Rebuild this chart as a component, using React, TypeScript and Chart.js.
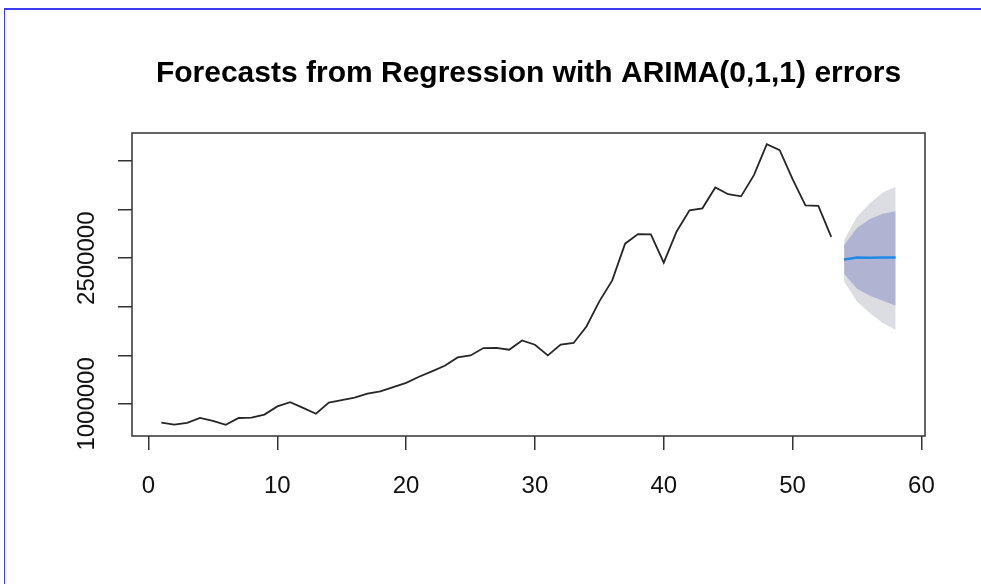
import React, { useEffect, useRef } from "react";
import { Chart, registerables } from "chart.js";

Chart.register(...registerables);

// Observed series (time index 1..53)
const historyValues: number[] = [
  808000, 787000, 805000, 856000, 825000, 785000, 855000, 858000, 890000, 974000,
  1018000, 959000, 898000, 1013000, 1039000, 1065000, 1106000, 1129000, 1173000, 1216000,
  1280000, 1335000, 1393000, 1479000, 1499000, 1575000, 1576000, 1558000, 1653000, 1609000,
  1499000, 1610000, 1627000, 1797000, 2056000, 2272000, 2650000, 2748000, 2745000, 2454000,
  2775000, 2993000, 3014000, 3229000, 3159000, 3137000, 3356000, 3674000, 3613000, 3315000,
  3045000, 3039000, 2719000,
];
const historyStart = 1;

// Forecast horizon (time index 54..58)
const forecastIndex: number[] = [54, 55, 56, 57, 58];
const forecastMean: number[] = [2486000, 2507000, 2505000, 2508000, 2507000];
const lower80: number[] = [2339000, 2185000, 2113000, 2061000, 2010000];
const upper80: number[] = [2637000, 2811000, 2904000, 2958000, 2983000];
const lower95: number[] = [2260000, 2054000, 1935000, 1832000, 1763000];
const upper95: number[] = [2688000, 2927000, 3065000, 3176000, 3236000];

const xTickValues: number[] = [0, 10, 20, 30, 40, 50, 60];
const yTickValues: number[] = [1000000, 1500000, 2000000, 2500000, 3000000, 3500000];
const yTickLabels: string[] = ["1000000", "", "", "2500000", "", ""];

const titleText = "Forecasts from Regression with ARIMA(0,1,1) errors";

export default function App() {
  const ref = useRef<HTMLCanvasElement | null>(null);

  useEffect(() => {
    if (!ref.current) return;
    const hist = historyValues.map((v, i) => ({ x: historyStart + i, y: v }));
    const fc = (arr: number[]) => arr.map((v, i) => ({ x: forecastIndex[i], y: v }));

    const allY = [...historyValues, ...lower95, ...upper95];
    const yMinD = Math.min(...allY);
    const yMaxD = Math.max(...allY);
    const yr = yMaxD - yMinD;
    const xMinD = historyStart;
    const xMaxD = forecastIndex[forecastIndex.length - 1];
    const xr = xMaxD - xMinD;

    const boxPlugin = {
      id: "rbox",
      afterDraw(chart: any) {
        const { ctx, chartArea } = chart;
        ctx.save();
        ctx.strokeStyle = "#333";
        ctx.lineWidth = 1.5;
        ctx.strokeRect(chartArea.left, chartArea.top, chartArea.right - chartArea.left, chartArea.bottom - chartArea.top);
        ctx.restore();
      },
    };

    const font = "'Liberation Sans', Arial, sans-serif";

    const chart = new Chart(ref.current, {
      type: "line",
      data: {
        datasets: [
          { data: hist, borderColor: "#262626", borderWidth: 1.8, pointRadius: 0, fill: false, tension: 0 },
          { data: fc(forecastMean), borderColor: "#1f8ae6", borderWidth: 2.5, pointRadius: 0, fill: false },
          { data: fc(lower80), borderWidth: 0, borderColor: "rgba(0,0,0,0)", pointRadius: 0, fill: false },
          { data: fc(upper80), borderWidth: 0, borderColor: "rgba(0,0,0,0)", pointRadius: 0, fill: "-1", backgroundColor: "#b1b3d3" },
          { data: fc(lower95), borderWidth: 0, borderColor: "rgba(0,0,0,0)", pointRadius: 0, fill: false },
          { data: fc(upper95), borderWidth: 0, borderColor: "rgba(0,0,0,0)", pointRadius: 0, fill: "-1", backgroundColor: "#dcdce3" },
        ],
      },
      options: {
        animation: false,
        responsive: false,
        devicePixelRatio: 1,
        layout: { padding: { left: 0, right: 56, top: 0, bottom: 0 } },
        plugins: {
          legend: { display: false },
          tooltip: { enabled: false },
          title: {
            display: true,
            fullSize: false,
            text: titleText,
            color: "#000",
            font: { family: font, size: 30, weight: "bold", lineHeight: 1.2 },
            padding: { top: 56, bottom: 41 },
          },
        },
        scales: {
          x: {
            type: "linear",
            min: xMinD - 0.04 * xr,
            max: xMaxD + 0.04 * xr,
            afterBuildTicks: (s: any) => { s.ticks = xTickValues.map((v) => ({ value: v })); },
            afterFit: (s: any) => { s.height = 148; },
            grid: { display: true, drawOnChartArea: false, drawTicks: true, tickLength: 14, color: "#333", lineWidth: 1.5 },
            border: { display: false },
            ticks: { color: "#111", font: { family: font, size: 24 }, padding: 22, autoSkip: false, maxRotation: 0, callback: (v: any) => String(v) },
          },
          y: {
            type: "linear",
            min: yMinD - 0.04 * yr,
            max: yMaxD + 0.04 * yr,
            afterBuildTicks: (s: any) => { s.ticks = yTickValues.map((v) => ({ value: v })); },
            afterFit: (s: any) => { s.width = 132; },
            grid: { display: true, drawOnChartArea: false, drawTicks: true, tickLength: 14, color: "#333", lineWidth: 1.5 },
            border: { display: false },
            ticks: {
              color: "#111",
              font: { family: font, size: 24 },
              padding: -16,
              autoSkip: false,
              minRotation: 90,
              maxRotation: 90,
              crossAlign: "center",
              callback: (_v: any, i: number) => yTickLabels[i],
            },
          },
        },
      },
      plugins: [boxPlugin],
    } as any);
    return () => chart.destroy();
  }, []);

  return (
    <div style={{ position: "fixed", left: 0, top: 0, width: 981, height: 584, background: "#fff" }}>
      <canvas ref={ref} width={981} height={584} style={{ width: 981, height: 584, display: "block" }} />
      <div
        style={{
          position: "absolute",
          left: 4,
          top: 8,
          width: 977,
          height: 576,
          borderTop: "2px solid #3b3bf2",
          borderLeft: "1px solid #3b3bf2",
          pointerEvents: "none",
        }}
      />
    </div>
  );
}
